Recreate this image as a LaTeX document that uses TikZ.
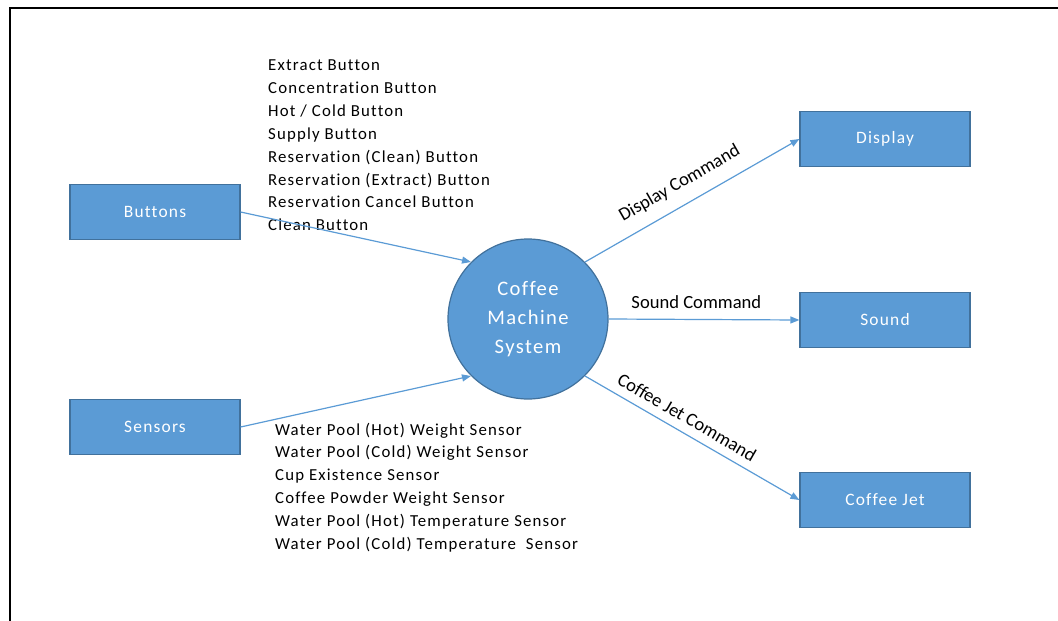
\documentclass[tikz,border=0pt]{standalone}
\usepackage{fontspec}
\setmainfont{Carlito}[LetterSpace=7,Ligatures={NoCommon}]
\newfontfamily\labelfont{Carlito}[Ligatures={NoCommon}]
\usetikzlibrary{arrows.meta,positioning}
\definecolor{boxblue}{HTML}{5B9BD5}
\definecolor{boxedge}{HTML}{41719C}
\definecolor{flowblue}{HTML}{5B9BD5}
\tikzset{
  entity/.style={draw=boxedge, line width=1.2pt, fill=boxblue, text=white,
    minimum width=170pt, minimum height=55pt,
    font=\fontsize{17.4}{20}\selectfont},
  process/.style={circle, draw=boxedge, line width=1.2pt, fill=boxblue,
    text=white, minimum size=160pt, align=center,
    font=\fontsize{20.6}{29}\selectfont},
  flow/.style={draw=flowblue, line width=1.2pt,
    -{Triangle[length=9pt,width=7pt]}},
  flowlabel/.style={font=\labelfont\fontsize{18.6}{20}\selectfont},
  listitem/.style={anchor=base west, inner sep=0pt,
    font=\fontsize{16.8}{20}\selectfont}
}

\begin{document}
\begin{tikzpicture}[x=1pt,y=-1pt]
    \useasboundingbox (0,0) rectangle (1058,621);
    % frame
    \draw[line width=1.6pt] (10,621) -- (10,8) -- (1058,8);

    % external entities and process
    \node[entity] (buttons) at (155,212) {Buttons};
    \node[entity] (sensors) at (155,427) {Sensors};
    \node[process] (sys) at (528,319) {Coffee\\Machine\\System};
    \node[entity] (display) at (885,139) {Display};
    \node[entity] (sound) at (885,320) {Sound};
    \node[entity] (jet) at (885,500) {Coffee Jet};

    % input lists
    \foreach \txt [count=\i] in {Extract Button, Concentration Button,
        Hot / Cold Button, Supply Button, Reservation (Clean) Button,
        Reservation (Extract) Button, Reservation Cancel Button, Clean Button}
        \node[listitem] (btn\i) at (268,{70.5+22.9*(\i-1)}) {\txt};
    \foreach \txt [count=\i] in {Water Pool (Hot) Weight Sensor,
        Water Pool (Cold) Weight Sensor, Cup Existence Sensor,
        Coffee Powder Weight Sensor, Water Pool (Hot) Temperature Sensor,
        Water Pool (Cold) Temperature~ Sensor}
        \node[listitem] (sns\i) at (275,{435+22.8*(\i-1)}) {\txt};

    % flows
    \draw[flow] (buttons.east) -- (sys.135);
    \draw[flow] (sensors.east) -- (sys.225);
    \draw[flow] (sys.45) -- node[flowlabel, sloped, above=9pt, pos=0.49]
        (dcmd) {Display Command} (display.west);
    \draw[flow] (sys.east) -- node[flowlabel, above=7pt, pos=0.46]
        (scmd) {Sound Command} (sound.west);
    \draw[flow] (sys.-45) -- node[flowlabel, sloped, above=5pt, pos=0.44]
        (jcmd) {Coffee Jet Command} (jet.west);
\end{tikzpicture}
\end{document}
